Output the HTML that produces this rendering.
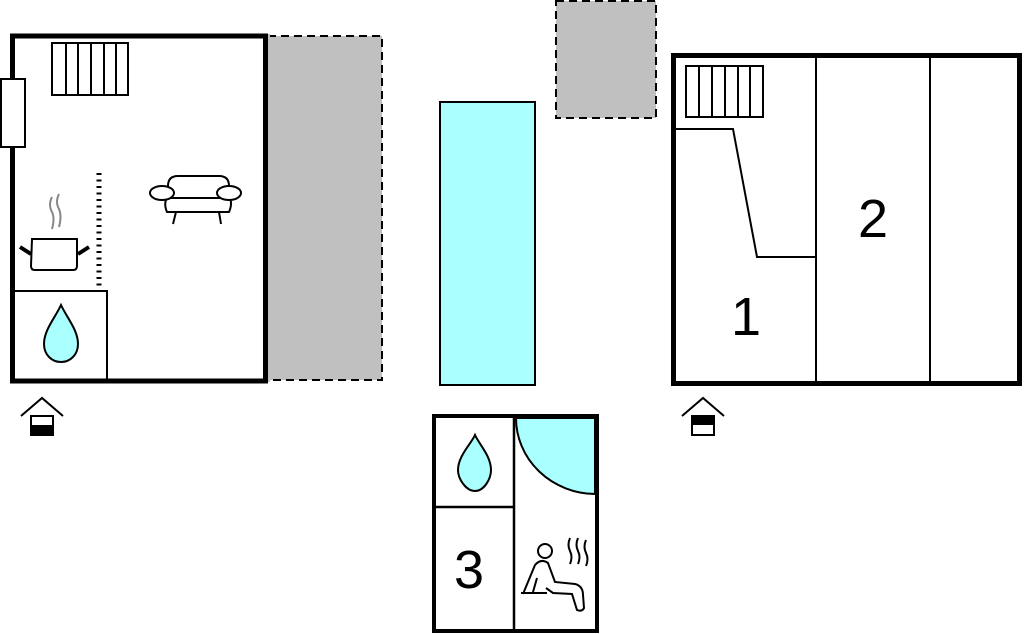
<!DOCTYPE html>
<html><head><meta charset="utf-8"><style>html,body{margin:0;padding:0;background:#fff}svg{display:block}</style></head>
<body>
<svg width="1024" height="634" viewBox="0 0 1024 634" xmlns="http://www.w3.org/2000/svg" font-family="Liberation Sans, sans-serif">
<!-- grey dashed areas -->
<rect x="268" y="36" width="114" height="344" fill="#c0c0c0" stroke="#000" stroke-width="2" stroke-dasharray="8,5"/>
<rect x="268" y="34" width="2" height="348" fill="#c0c0c0"/>
<rect x="556" y="1" width="100" height="117" fill="#c0c0c0" stroke="#000" stroke-width="2" stroke-dasharray="8,5"/>
<!-- left building -->
<rect x="12.5" y="36" width="253" height="345" fill="#fff" stroke="#000" stroke-width="5"/>
<rect x="1" y="79" width="24" height="68" fill="#fff" stroke="#000" stroke-width="2"/>
<g fill="none" stroke="#000" stroke-width="2">
<rect x="52" y="43" width="76" height="52"/>
<path d="M66 43V95M78 43V95M91 43V95M104 43V95M116 43V95"/>
<rect x="12" y="291" width="95" height="90"/>
</g>
<path d="M99 173V288" stroke="#000" stroke-width="5" stroke-dasharray="2,4.5"/>
<path d="M61 305 C55 318 44 330 44 344 C44 355 52 362 61 362 C70 362 78 355 78 344 C78 330 67 318 61 305Z" fill="#aaffff" stroke="#000" stroke-width="2"/>
<!-- pot -->
<g stroke="#000" stroke-width="2" fill="#fff">
<path d="M32 239H77V266Q77 270 73 270H35Q31 270 31 266Z"/>
</g>
<path d="M20 247L31 254M78 254L89 247" stroke="#000" stroke-width="4"/>
<path d="M52 197Q48 205 52 212Q55 218 52 229M59 194Q55 202 59 209Q62 216 59 227" stroke="#888" stroke-width="2" fill="none"/>
<!-- sofa -->
<g stroke="#000" stroke-width="2" fill="#fff">
<path d="M167 212Q163 203 168 196V186Q168 176 178 176H219Q229 176 229 186V196Q233 203 229 212Z"/>
<path d="M168 198H229"/>
<ellipse cx="162" cy="193" rx="12" ry="7"/>
<ellipse cx="229" cy="193" rx="12" ry="7"/>
<path d="M176 212L173 224M219 212L221 224"/>
</g>
<!-- entrance left -->
<path d="M21 416L42 398L63 416" fill="none" stroke="#000" stroke-width="2"/>
<rect x="31" y="416" width="22" height="19" fill="#fff" stroke="#000" stroke-width="2"/>
<rect x="31" y="425" width="22" height="10" fill="#000"/>
<!-- pool -->
<rect x="440" y="102" width="95" height="283" fill="#aaffff" stroke="#000" stroke-width="2"/>
<!-- right building -->
<rect x="673.5" y="55.5" width="346" height="328" fill="#fff" stroke="#000" stroke-width="5"/>
<g fill="none" stroke="#000" stroke-width="2">
<path d="M816 56V383M930 56V383"/>
<rect x="686" y="66" width="77" height="51"/>
<path d="M699 66V117M712 66V117M725 66V117M738 66V117M750 66V117"/>
<path d="M675 129H733L757 257H816"/>
</g>
<text x="746" y="335" font-size="54" text-anchor="middle">1</text>
<text x="873" y="237" font-size="54" text-anchor="middle">2</text>
<path d="M682 416L703 398L724 416" fill="none" stroke="#000" stroke-width="2"/>
<rect x="692" y="416" width="22" height="19" fill="#fff" stroke="#000" stroke-width="2"/>
<rect x="692" y="416" width="22" height="9" fill="#000"/>
<!-- sauna building -->
<rect x="434" y="416" width="163" height="215" fill="#fff" stroke="#000" stroke-width="4"/>
<path d="M516 418A80 76 0 0 0 595 494V418Z" fill="#aaffff" stroke="#000" stroke-width="2"/>
<path d="M514 418V630M436 507H514" stroke="#000" stroke-width="2.5"/>
<path d="M475 435C471 444 458 456 458 470C458 479 466 491 475 491C484 491 491 479 491 470C491 456 479 444 475 435Z" fill="#aaffff" stroke="#000" stroke-width="2"/>
<text x="469" y="588" font-size="54" text-anchor="middle">3</text>
<g fill="none" stroke="#000" stroke-width="2">
<circle cx="545" cy="551" r="7"/>
<path d="M523 594L535 565Q541 558 548 563L555 582L575 584Q583 586 583 595L584 608Q582 612 577 610L572 594L553 593L546 588"/>
<path d="M533 592L537 578"/>
<path d="M521 593H547"/>
<path d="M570 538Q567 545 570 551Q573 557 570 564M578 538Q575 545 578 551Q581 557 578 564M586 540Q583 547 586 553Q589 559 586 566"/>
</g>
</svg>
</body></html>
